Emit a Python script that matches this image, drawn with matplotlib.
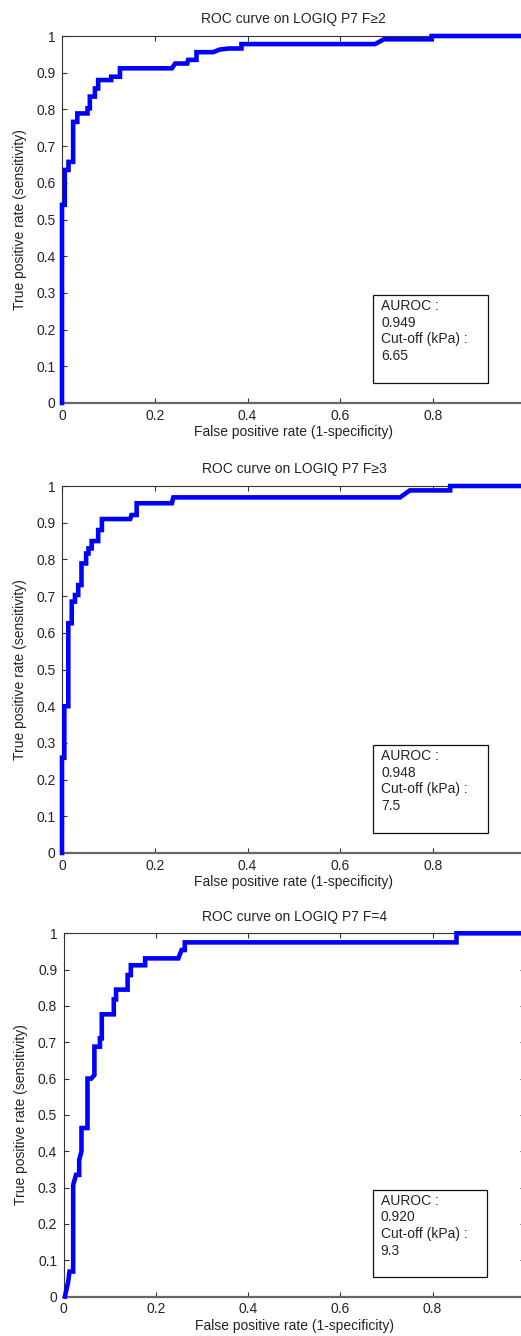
import matplotlib
matplotlib.use("Agg")
import matplotlib.pyplot as plt
from matplotlib.patches import Rectangle

plt.rcParams['font.family'] = ['Liberation Sans', 'DejaVu Sans']
plt.rcParams['font.size'] = 10

# ROC curve vertices (fpr, tpr)
fpr_f2 = [0, 0, 0.006, 0.006, 0.014, 0.014, 0.024, 0.024, 0.033, 0.033,
          0.055, 0.055, 0.060, 0.060, 0.071, 0.071, 0.078, 0.078, 0.106, 0.106,
          0.125, 0.125, 0.237, 0.244, 0.270, 0.272, 0.290, 0.290, 0.326, 0.340,
          0.360, 0.387, 0.387, 0.675, 0.694, 0.797, 0.797, 1.0]
tpr_f2 = [0, 0.54, 0.54, 0.635, 0.635, 0.657, 0.657, 0.766, 0.766, 0.789,
          0.789, 0.803, 0.803, 0.835, 0.835, 0.857, 0.857, 0.880, 0.880, 0.889,
          0.889, 0.912, 0.912, 0.925, 0.925, 0.935, 0.935, 0.956, 0.956, 0.963,
          0.966, 0.966, 0.978, 0.978, 0.991, 0.991, 1.0, 1.0]

fpr_f3 = [0, 0, 0.005, 0.005, 0.0136, 0.0136, 0.021, 0.021, 0.028, 0.028,
          0.035, 0.035, 0.042, 0.042, 0.052, 0.052, 0.057, 0.057, 0.064, 0.064,
          0.078, 0.078, 0.086, 0.086, 0.147, 0.150, 0.161, 0.161, 0.237, 0.240,
          0.729, 0.75, 0.837, 0.837, 1.0]
tpr_f3 = [0, 0.26, 0.26, 0.40, 0.40, 0.626, 0.626, 0.685, 0.685, 0.703,
          0.703, 0.73, 0.73, 0.789, 0.789, 0.816, 0.816, 0.83, 0.83, 0.85,
          0.85, 0.88, 0.88, 0.91, 0.91, 0.921, 0.921, 0.953, 0.953, 0.969,
          0.969, 0.988, 0.988, 1.0, 1.0]

fpr_f4 = [0.003, 0.010, 0.013, 0.021, 0.021, 0.027, 0.034, 0.034, 0.039, 0.039,
          0.052, 0.052, 0.060, 0.067, 0.067, 0.079, 0.079, 0.083, 0.083, 0.109,
          0.109, 0.114, 0.114, 0.139, 0.139, 0.146, 0.146, 0.177, 0.177, 0.249,
          0.256, 0.263, 0.263, 0.852, 0.852, 1.0]
tpr_f4 = [0.0, 0.04, 0.069, 0.069, 0.307, 0.335, 0.335, 0.376, 0.40, 0.464,
          0.464, 0.60, 0.60, 0.61, 0.688, 0.688, 0.711, 0.711, 0.777, 0.777,
          0.818, 0.818, 0.845, 0.845, 0.885, 0.885, 0.912, 0.912, 0.931, 0.931,
          0.954, 0.954, 0.975, 0.975, 1.0, 1.0]

titles = ["ROC curve on LOGIQ P7 F\u22652",
          "ROC curve on LOGIQ P7 F\u22653",
          "ROC curve on LOGIQ P7 F=4"]
aurocs = ["0.949", "0.948", "0.920"]
cutoffs = ["6.65", "7.5", "9.3"]
curves = [(fpr_f2, tpr_f2), (fpr_f3, tpr_f3), (fpr_f4, tpr_f4)]

W, H = 521, 1336
# axes boxes in pixels: left, top, width, height
boxes = [(62, 36, 463.75, 367), (62, 486, 463.75, 367), (63.5, 933.3, 461.25, 363.3)]

fig = plt.figure(figsize=(W / 100, H / 100), dpi=100)
txtcol = '#22222e'

for i in range(3):
    l, t, w, h = boxes[i]
    ax = fig.add_axes([l / W, (H - t - h) / H, w / W, h / H])
    fpr, tpr = curves[i]
    ax.plot(fpr, tpr, color='#0000ff', lw=3.3, clip_on=False,
            solid_joinstyle='miter', zorder=3)
    ax.set_xlim(0, 1)
    ax.set_ylim(0, 1)
    # the x=1 label falls outside the cropped picture
    ax.set_xticks([0, 0.2, 0.4, 0.6, 0.8, 1.0])
    ax.set_xticklabels(['0', '0.2', '0.4', '0.6', '0.8', ''])
    ax.set_yticks([i / 10 for i in range(11)])
    ax.set_yticklabels(['0'] + ['%.1f' % (i / 10) for i in range(1, 10)] + ['1'])
    ax.tick_params(direction='in', length=3.5, width=0.8, top=True, right=True,
                   colors='#333333', labelcolor=txtcol, labelsize=10)
    ax.tick_params(axis='x', pad=4)
    ax.tick_params(axis='y', pad=4.5)
    for s in ax.spines.values():
        s.set_color('#333333')
        s.set_linewidth(0.8)
    ax.spines['bottom'].set_color('#666666')
    ax.spines['bottom'].set_linewidth(1.6)
    ax.set_title(titles[i], fontsize=10, color=txtcol, pad=9)
    ax.set_xlabel("False positive rate (1-specificity)", color=txtcol, labelpad=2)
    ax.set_ylabel("True positive rate (sensitivity)", color=txtcol, labelpad=7)

    ax.add_patch(Rectangle((0.671, 0.055), 0.247, 0.239, transform=ax.transAxes,
                           fill=False, edgecolor='#111111', lw=0.9, zorder=4))
    lines = ["AUROC :", aurocs[i], "Cut-off (kPa) :", cutoffs[i]]
    for k, s in enumerate(lines):
        ax.text(0.688, 0.2534 - k * 16.7 / h, s, transform=ax.transAxes,
                va='baseline', ha='left', fontsize=10, color=txtcol)

fig.savefig("out.png", dpi=100)
